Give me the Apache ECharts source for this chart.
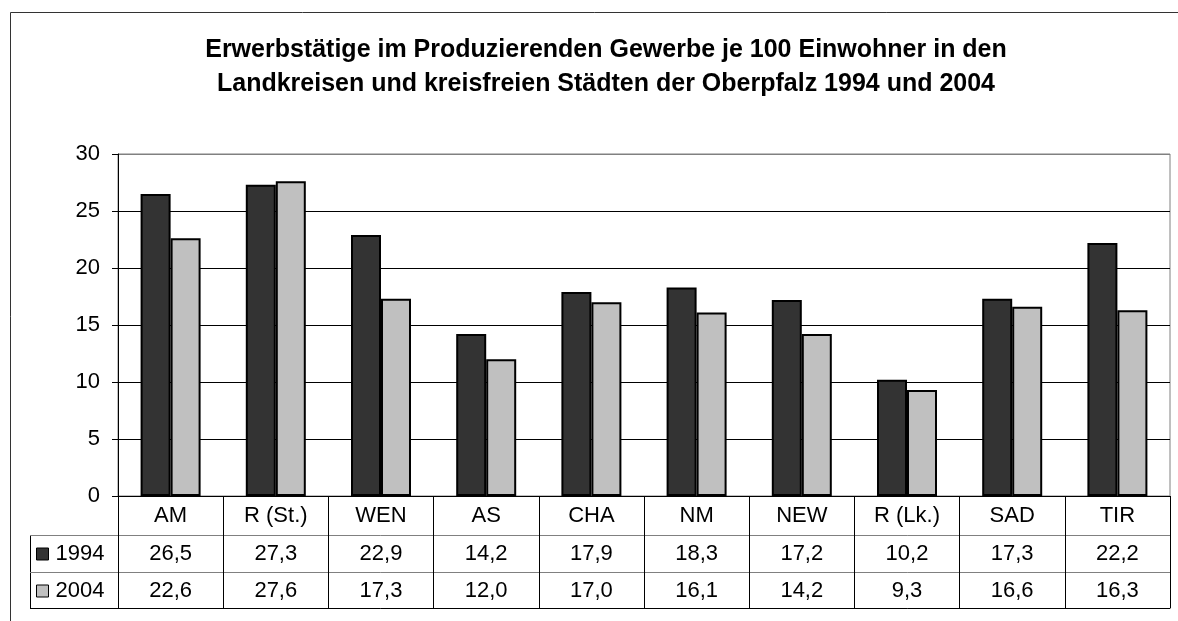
<!DOCTYPE html>
<html>
<head>
<meta charset="utf-8">
<script src="https://cdn.jsdelivr.net/npm/echarts@6/dist/echarts.min.js"></script>
<style>
  html, body { margin: 0; padding: 0; background: #fff; }
  #chart { width: 1178px; height: 621px; }
</style>
</head>
<body>
<div id="chart"></div>
<script>
    var categories = ['AM', 'R (St.)', 'WEN', 'AS', 'CHA', 'NM', 'NEW', 'R (Lk.)', 'SAD', 'TIR'];
    var values1994 = [26.5, 27.3, 22.9, 14.2, 17.9, 18.3, 17.2, 10.2, 17.3, 22.2];
    var values2004 = [22.6, 27.6, 17.3, 12.0, 17.0, 16.1, 14.2, 9.3, 16.6, 16.3];
    var seriesNames = ['1994', '2004'];
    var yTicks = [0, 5, 10, 15, 20, 25, 30];

    // layout of plot + data table
    var gridLeft = 118, gridRight = 1170, gridTop = 154, gridBottom = 496;
    var rowH = [39, 37, 36];
    var tableLeft = 30;
    var font = 'Arial, "Liberation Sans", sans-serif';
    var fs = 22;

    function fmt(v) {
        return v.toFixed(1).replace('.', ',');
    }

    var chart = echarts.init(document.getElementById('chart'));

    var row1Top = gridBottom + rowH[0];
    var row2Top = row1Top + rowH[1];
    var tableBottom = row2Top + rowH[2];

    chart.setOption({
        animation: false,
        textStyle: { fontFamily: font },
        title: {
            text: 'Erwerbstätige im Produzierenden Gewerbe je 100 Einwohner in den\nLandkreisen und kreisfreien Städten der Oberpfalz 1994 und 2004',
            left: 601,
            top: 28,
            textAlign: 'center',
            textStyle: {
                fontFamily: font,
                fontSize: 25,
                fontWeight: 'bold',
                color: '#000',
                lineHeight: 34
            }
        },
        legend: {
            orient: 'vertical',
            left: 36,
            top: row1Top + 8,
            padding: 0,
            itemWidth: 12,
            itemHeight: 12,
            itemGap: 15,
            data: seriesNames,
            icon: 'rect',
            itemStyle: { borderColor: '#000', borderWidth: 1 },
            textStyle: { fontFamily: font, fontSize: fs, color: '#000', padding: [0, 0, 0, 2], lineHeight: 22 }
        },
        grid: {
            left: gridLeft,
            right: 1178 - gridRight,
            top: gridTop,
            bottom: 621 - gridBottom,
            show: true,
            borderColor: '#808080',
            borderWidth: 1
        },
        xAxis: [
            {
                type: 'category',
                data: categories,
                position: 'bottom',
                axisLine: { lineStyle: { color: '#000', width: 1 } },
                axisTick: { show: true, length: rowH[0], lineStyle: { color: '#000' } },
                axisLabel: { fontFamily: font, fontSize: fs, color: '#000', margin: 9, interval: 0 }
            },
            {
                type: 'category',
                data: values1994.map(fmt),
                position: 'bottom',
                offset: rowH[0],
                axisLine: { lineStyle: { color: '#808080', width: 1 } },
                axisTick: { show: true, length: rowH[1], lineStyle: { color: '#000' } },
                axisLabel: { fontFamily: font, fontSize: fs, color: '#000', margin: 8, interval: 0 }
            },
            {
                type: 'category',
                data: values2004.map(fmt),
                position: 'bottom',
                offset: rowH[0] + rowH[1],
                axisLine: { lineStyle: { color: '#808080', width: 1 } },
                axisTick: { show: true, length: rowH[2], lineStyle: { color: '#000' } },
                axisLabel: { fontFamily: font, fontSize: fs, color: '#000', margin: 8, interval: 0 }
            },
            {
                type: 'category',
                data: categories,
                position: 'bottom',
                offset: rowH[0] + rowH[1] + rowH[2],
                axisLine: { lineStyle: { color: '#000', width: 1 } },
                axisTick: { show: false },
                axisLabel: { show: false }
            }
        ],
        yAxis: {
            type: 'value',
            min: yTicks[0],
            max: yTicks[yTicks.length - 1],
            interval: 5,
            axisLine: { show: true, lineStyle: { color: '#000', width: 1 } },
            axisTick: { show: true, length: 6, lineStyle: { color: '#000' } },
            axisLabel: { fontFamily: font, fontSize: fs, color: '#000', margin: 18 },
            splitLine: {
                show: true,
                lineStyle: { color: ['#000', '#000', '#000', '#000', '#000', '#000', '#808080'], width: 1 }
            }
        },
        series: [
            {
                name: seriesNames[0],
                type: 'bar',
                data: values1994,
                barWidth: 30,
                barGap: '0%',
                itemStyle: { color: '#333333', borderColor: '#000', borderWidth: 2 }
            },
            {
                name: seriesNames[1],
                type: 'bar',
                data: values2004,
                barWidth: 30,
                itemStyle: { color: '#c0c0c0', borderColor: '#000', borderWidth: 2 }
            }
        ],
        graphic: [
            // outer chart frame (left + top)
            { type: 'polyline', shape: { points: [[10.5, 621], [10.5, 12.5], [1178, 12.5]] }, style: { stroke: '#333', lineWidth: 1, fill: null } },
            // legend column of the data table
            { type: 'line', shape: { x1: tableLeft + 0.5, y1: row1Top, x2: tableLeft + 0.5, y2: tableBottom }, style: { stroke: '#000', lineWidth: 1 } },
            { type: 'line', shape: { x1: tableLeft, y1: row1Top + 0.5, x2: gridLeft, y2: row1Top + 0.5 }, style: { stroke: '#808080', lineWidth: 1 } },
            { type: 'line', shape: { x1: tableLeft, y1: row2Top + 0.5, x2: gridLeft, y2: row2Top + 0.5 }, style: { stroke: '#808080', lineWidth: 1 } },
            { type: 'line', shape: { x1: tableLeft, y1: tableBottom + 0.5, x2: gridLeft, y2: tableBottom + 0.5 }, style: { stroke: '#000', lineWidth: 1 } }
        ]
    });
</script>
</body>
</html>
